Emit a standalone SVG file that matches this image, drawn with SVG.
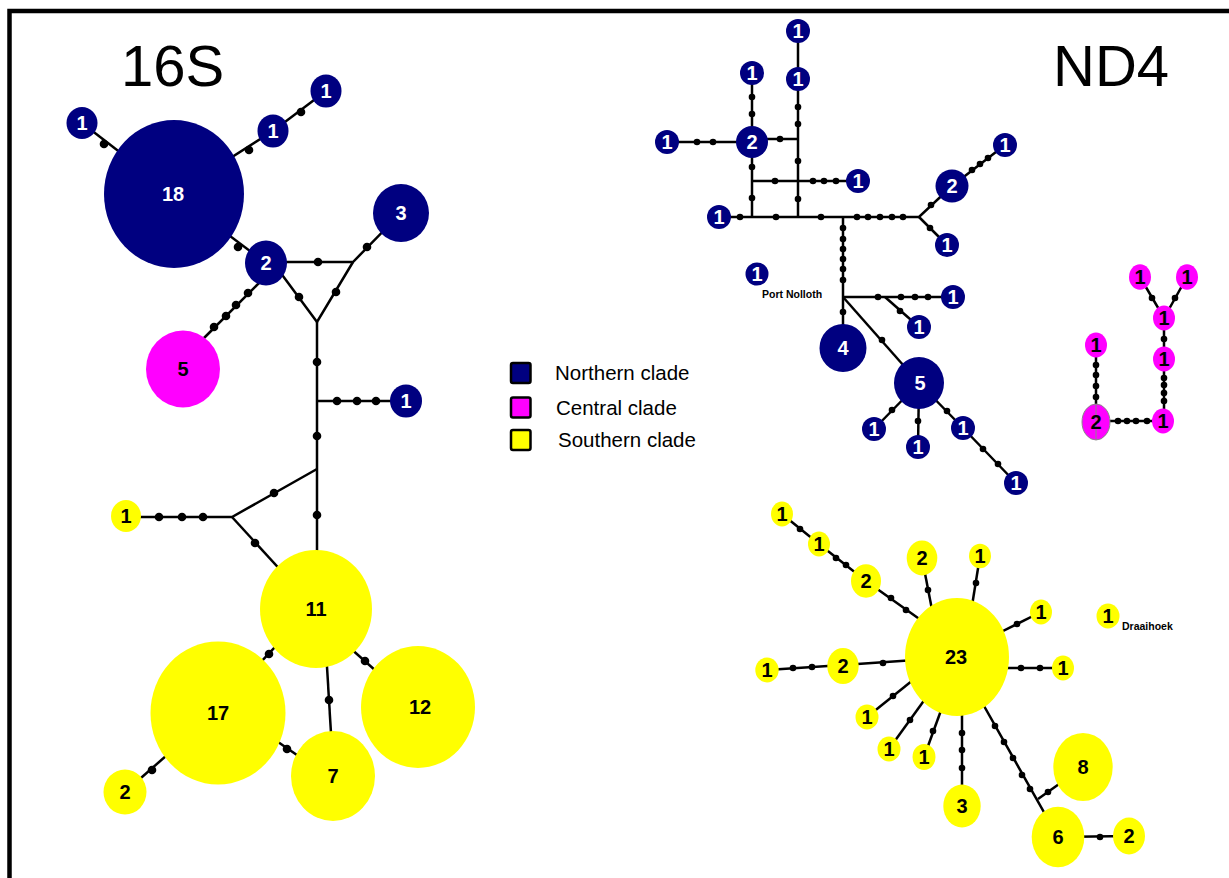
<svg xmlns="http://www.w3.org/2000/svg" width="1229" height="878" viewBox="0 0 1229 878">
<style>
.n{fill:#000080}
.c{fill:#ff00ff}
.s{fill:#ffff00}
.e{stroke:#000;stroke-width:2.5;fill:none}
.d{fill:#000}
.d4 circle{r:4.3px}
.d3 circle{r:3.3px}
text{font-family:"Liberation Sans",Arial,Helvetica,sans-serif}
.w{fill:#fff;font-weight:bold;font-size:20px;text-anchor:middle}
.b{fill:#000;font-weight:bold;font-size:20px;text-anchor:middle}
.t{font-size:58px;fill:#000}
.lg{font-size:20.5px;fill:#000}
.sm{font-size:10.5px;font-weight:bold;fill:#000}
.box{stroke:#000;stroke-width:2.5}
</style>
<rect x="0" y="0" width="1229" height="878" fill="#fff"/>
<path d="M9.5 878 V11 H1229" fill="none" stroke="#000" stroke-width="4.5"/>
<text class="t" x="121" y="86">16S</text>
<text class="t" x="1053" y="86">ND4</text>

<g id="connectors">
  <g class="e">
    <path d="M82 123 L174 194"/>
    <path d="M174 194 L273 131 L326 91"/>
    <path d="M174 194 L266 263"/>
    <path d="M260 282 L200 342"/>
    <path d="M266 262 L353 262 L401 213"/>
    <path d="M353 262 L317 322 L280 272"/>
    <path d="M317 322 L317 580"/>
    <path d="M317 401 H406"/>
    <path d="M317 469 L232 517 H126"/>
    <path d="M232 517 L285 575"/>
    <path d="M290 631 L245 679"/>
    <path d="M340 639 L385 679"/>
    <path d="M326 650 L332 750"/>
    <path d="M265 733 L310 764"/>
    <path d="M175 748 L125 792"/>
    <path d="M798 31 V217"/>
    <path d="M752 73 V217"/>
    <path d="M667 142 H752"/>
    <path d="M752 139 H798"/>
    <path d="M752 181 H858"/>
    <path d="M719 217 H919 L952 186 L1005 145"/>
    <path d="M919 217 L947 245"/>
    <path d="M843 217 V348"/>
    <path d="M843 297 H953"/>
    <path d="M885 297 L919 327"/>
    <path d="M843 297 L919 383"/>
    <path d="M919 383 L874 429"/>
    <path d="M919 383 L918 447"/>
    <path d="M919 383 L963 428 L1016 483"/>
    <path d="M1140 277 L1164 318 L1187 277"/>
    <path d="M1164 318 V421 H1096 V345"/>
    <path d="M782 514 L819 544 L866 581 L925 623"/>
    <path d="M922 558 L934 620"/>
    <path d="M980 556 L971 612"/>
    <path d="M1041 612 L995 635"/>
    <path d="M1063 668 H1000"/>
    <path d="M767 670 L843 665 L915 660"/>
    <path d="M867 717 L918 676"/>
    <path d="M889 749 L928 695"/>
    <path d="M924 757 L943 705"/>
    <path d="M962 806 V700"/>
    <path d="M975 690 L1058 837 L1129 836"/>
    <path d="M1038 799 L1083 767"/>
  </g>
  <g class="d d4">
    <circle cx="104" cy="144"/>
    <circle cx="249" cy="150"/>
    <circle cx="301" cy="112"/>
    <circle cx="238" cy="247"/>
    <circle cx="248" cy="293"/><circle cx="236" cy="305"/><circle cx="226" cy="316"/><circle cx="214" cy="327"/>
    <circle cx="318" cy="262"/>
    <circle cx="367" cy="247"/>
    <circle cx="336" cy="292"/>
    <circle cx="299" cy="297"/>
    <circle cx="317" cy="362"/><circle cx="317" cy="436"/><circle cx="317" cy="515"/>
    <circle cx="337" cy="401"/><circle cx="357" cy="401"/><circle cx="376" cy="401"/>
    <circle cx="274" cy="493"/>
    <circle cx="159" cy="517"/><circle cx="182" cy="517"/><circle cx="203" cy="517"/>
    <circle cx="255" cy="543"/>
    <circle cx="269" cy="654"/>
    <circle cx="365" cy="661"/>
    <circle cx="329" cy="700"/>
    <circle cx="287" cy="749"/>
    <circle cx="152" cy="770"/>
  </g>
  <g class="d d3">
    <circle cx="798" cy="107"/><circle cx="798" cy="124"/><circle cx="798" cy="161"/><circle cx="798" cy="199"/>
    <circle cx="752" cy="97"/><circle cx="752" cy="114"/><circle cx="752" cy="167"/><circle cx="752" cy="198"/>
    <circle cx="697" cy="142"/><circle cx="713" cy="142"/>
    <circle cx="780" cy="139"/>
    <circle cx="775" cy="181"/><circle cx="813" cy="181"/><circle cx="824" cy="181"/><circle cx="836" cy="181"/>
    <circle cx="740" cy="217"/><circle cx="776" cy="217"/><circle cx="821" cy="217"/><circle cx="857" cy="217"/><circle cx="868" cy="217"/><circle cx="880" cy="217"/><circle cx="892" cy="217"/><circle cx="903" cy="217"/>
    <circle cx="931" cy="205"/>
    <circle cx="972" cy="170"/><circle cx="980" cy="164"/><circle cx="988" cy="158"/>
    <circle cx="930" cy="228"/>
    <circle cx="843" cy="228"/><circle cx="843" cy="239"/><circle cx="843" cy="249"/><circle cx="843" cy="259"/><circle cx="843" cy="269"/><circle cx="843" cy="280"/>
    <circle cx="878" cy="297"/><circle cx="901" cy="297"/><circle cx="915" cy="297"/><circle cx="928" cy="297"/>
    <circle cx="900" cy="311"/>
    <circle cx="843" cy="312"/>
    <circle cx="882" cy="340"/>
    <circle cx="892" cy="410"/>
    <circle cx="918" cy="421"/>
    <circle cx="947" cy="411"/>
    <circle cx="983" cy="449"/><circle cx="998" cy="464"/>
    <circle cx="1152" cy="298"/><circle cx="1175" cy="298"/>
    <circle cx="1164" cy="339"/>
    <circle cx="1164" cy="378"/><circle cx="1164" cy="385"/><circle cx="1164" cy="393"/><circle cx="1164" cy="401"/>
    <circle cx="1096" cy="365"/><circle cx="1096" cy="375"/><circle cx="1096" cy="386"/><circle cx="1096" cy="397"/>
    <circle cx="1118" cy="421"/><circle cx="1127" cy="421"/><circle cx="1136" cy="421"/><circle cx="1147" cy="421"/>
    <circle cx="800" cy="529"/>
    <circle cx="836" cy="558"/><circle cx="846" cy="565"/>
    <circle cx="891" cy="598"/><circle cx="906" cy="610"/>
    <circle cx="928" cy="590"/>
    <circle cx="976" cy="583"/>
    <circle cx="1017" cy="624"/>
    <circle cx="1021" cy="668"/><circle cx="1040" cy="668"/>
    <circle cx="793" cy="668"/><circle cx="812" cy="667"/>
    <circle cx="883" cy="663"/>
    <circle cx="893" cy="696"/>
    <circle cx="910" cy="720"/>
    <circle cx="933" cy="731"/>
    <circle cx="962" cy="733"/><circle cx="962" cy="750"/><circle cx="962" cy="768"/>
    <circle cx="995" cy="726"/><circle cx="1004" cy="742"/><circle cx="1013" cy="758"/><circle cx="1022" cy="775"/><circle cx="1030" cy="789"/>
    <circle cx="1048" cy="792"/>
    <circle cx="1100" cy="837"/>
  </g>
</g>

<g id="s16-n1a"><ellipse class="n" cx="82" cy="123" rx="15.5" ry="16"/><text class="w" x="82" y="130">1</text></g>
<g id="s16-n18"><ellipse class="n" cx="174" cy="194" rx="70" ry="74"/><text class="w" x="173" y="201">18</text></g>
<g id="s16-n1b"><ellipse class="n" cx="273" cy="131" rx="15.5" ry="16.5"/><text class="w" x="273" y="138">1</text></g>
<g id="s16-n1c"><ellipse class="n" cx="326" cy="91" rx="15.5" ry="16.5"/><text class="w" x="326" y="98">1</text></g>
<g id="s16-n2"><ellipse class="n" cx="266" cy="263" rx="21" ry="22.5"/><text class="w" x="266" y="270">2</text></g>
<g id="s16-n3"><ellipse class="n" cx="401" cy="213" rx="28" ry="29"/><text class="w" x="401" y="220">3</text></g>
<g id="s16-n5"><ellipse class="c" cx="183" cy="369" rx="37" ry="38.5"/><text class="b" x="183" y="376">5</text></g>
<g id="s16-n1d"><ellipse class="n" cx="406" cy="401" rx="16" ry="16.5"/><text class="w" x="406" y="408">1</text></g>
<g id="s16-s1"><ellipse class="s" cx="126" cy="516" rx="15" ry="16"/><text class="b" x="126" y="523">1</text></g>
<g id="s16-s11"><ellipse class="s" cx="316" cy="609" rx="56" ry="59"/><text class="b" x="316" y="616">11</text></g>
<g id="s16-s17"><ellipse class="s" cx="218" cy="713" rx="67.5" ry="71.5"/><text class="b" x="218" y="720">17</text></g>
<g id="s16-s12"><ellipse class="s" cx="418" cy="707" rx="57" ry="61"/><text class="b" x="420" y="714">12</text></g>
<g id="s16-s7"><ellipse class="s" cx="333" cy="776" rx="42" ry="45"/><text class="b" x="333" y="783">7</text></g>
<g id="s16-s2"><ellipse class="s" cx="125" cy="792" rx="21.5" ry="22.5"/><text class="b" x="125" y="799">2</text></g>

<g id="nd-n1a"><circle class="n" cx="798" cy="31" r="12"/><text class="w" x="798" y="38">1</text></g>
<g id="nd-n1b"><circle class="n" cx="798" cy="79" r="12"/><text class="w" x="798" y="86">1</text></g>
<g id="nd-n1c"><circle class="n" cx="752" cy="73" r="12"/><text class="w" x="752" y="80">1</text></g>
<g id="nd-n2a"><circle class="n" cx="752" cy="142" r="16"/><text class="w" x="752" y="149">2</text></g>
<g id="nd-n1d"><circle class="n" cx="667" cy="142" r="12"/><text class="w" x="667" y="149">1</text></g>
<g id="nd-n1e"><circle class="n" cx="858" cy="181" r="12"/><text class="w" x="858" y="188">1</text></g>
<g id="nd-n1f"><circle class="n" cx="719" cy="217" r="12"/><text class="w" x="719" y="224">1</text></g>
<g id="nd-n2b"><circle class="n" cx="952" cy="186" r="16.5"/><text class="w" x="952" y="193">2</text></g>
<g id="nd-n1g"><circle class="n" cx="1005" cy="145" r="12"/><text class="w" x="1005" y="152">1</text></g>
<g id="nd-n1h"><circle class="n" cx="947" cy="245" r="12"/><text class="w" x="947" y="252">1</text></g>
<g id="nd-n1pn"><circle class="n" cx="757" cy="274" r="11.5"/><text class="w" x="757" y="281">1</text><text class="sm" x="762" y="298">Port Nolloth</text></g>
<g id="nd-n1i"><circle class="n" cx="953" cy="297" r="12"/><text class="w" x="953" y="304">1</text></g>
<g id="nd-n1j"><circle class="n" cx="919" cy="327" r="12"/><text class="w" x="919" y="334">1</text></g>
<g id="nd-n4"><ellipse class="n" cx="843" cy="348" rx="23.5" ry="24"/><text class="w" x="843" y="355">4</text></g>
<g id="nd-n5"><ellipse class="n" cx="919" cy="383" rx="25" ry="26"/><text class="w" x="920" y="390">5</text></g>
<g id="nd-n1k"><circle class="n" cx="874" cy="429" r="12"/><text class="w" x="874" y="436">1</text></g>
<g id="nd-n1l"><circle class="n" cx="918" cy="447" r="12"/><text class="w" x="918" y="454">1</text></g>
<g id="nd-n1m"><circle class="n" cx="963" cy="428" r="12"/><text class="w" x="963" y="435">1</text></g>
<g id="nd-n1n"><circle class="n" cx="1016" cy="483" r="12"/><text class="w" x="1016" y="490">1</text></g>

<g id="nd-c1a"><ellipse class="c" cx="1140" cy="277" rx="11" ry="12.8"/><text class="b" x="1140" y="284">1</text></g>
<g id="nd-c1b"><ellipse class="c" cx="1187" cy="277" rx="11" ry="12.8"/><text class="b" x="1187" y="284">1</text></g>
<g id="nd-c1c"><ellipse class="c" cx="1164" cy="318" rx="11" ry="12.5"/><text class="b" x="1164" y="325">1</text></g>
<g id="nd-c1d"><ellipse class="c" cx="1164" cy="359" rx="11" ry="12.5"/><text class="b" x="1164" y="366">1</text></g>
<g id="nd-c1e"><ellipse class="c" cx="1163" cy="421" rx="11" ry="12.5"/><text class="b" x="1163" y="428">1</text></g>
<g id="nd-c1f"><ellipse class="c" cx="1096" cy="345" rx="11" ry="12.5"/><text class="b" x="1096" y="352">1</text></g>
<g id="nd-c2"><ellipse class="c" cx="1096" cy="422" rx="14" ry="18" stroke="#8a8a8a" stroke-width="1"/><line x1="1096" y1="404" x2="1096" y2="440" stroke="#8a8a8a" stroke-width="1"/><text class="b" x="1096" y="429">2</text></g>

<g id="nd-s1a"><ellipse class="s" cx="782" cy="514" rx="11" ry="12.5"/><text class="b" x="782" y="521">1</text></g>
<g id="nd-s1b"><ellipse class="s" cx="819" cy="544" rx="11" ry="12.5"/><text class="b" x="819" y="551">1</text></g>
<g id="nd-s2a"><ellipse class="s" cx="866" cy="581" rx="15" ry="16.7"/><text class="b" x="866" y="588">2</text></g>
<g id="nd-s2b"><ellipse class="s" cx="922" cy="558" rx="15.3" ry="17.5"/><text class="b" x="922" y="565">2</text></g>
<g id="nd-s1c"><ellipse class="s" cx="980" cy="556" rx="11" ry="12.2"/><text class="b" x="980" y="563">1</text></g>
<g id="nd-s1d"><ellipse class="s" cx="1041" cy="612" rx="11" ry="12.5"/><text class="b" x="1041" y="619">1</text></g>
<g id="nd-s1dr"><ellipse class="s" cx="1108" cy="616" rx="11.5" ry="12.5"/><text class="b" x="1108" y="623">1</text><text class="sm" x="1122" y="630">Draaihoek</text></g>
<g id="nd-s23"><ellipse class="s" cx="957" cy="657" rx="52" ry="59"/><text class="b" x="956" y="664">23</text></g>
<g id="nd-s1e"><ellipse class="s" cx="1063" cy="668" rx="11" ry="12.5"/><text class="b" x="1063" y="675">1</text></g>
<g id="nd-s2c"><ellipse class="s" cx="843" cy="666" rx="15.7" ry="18"/><text class="b" x="843" y="673">2</text></g>
<g id="nd-s1f"><ellipse class="s" cx="767" cy="670" rx="11.7" ry="12.5"/><text class="b" x="767" y="677">1</text></g>
<g id="nd-s1g"><ellipse class="s" cx="867" cy="717" rx="11.5" ry="12.5"/><text class="b" x="867" y="724">1</text></g>
<g id="nd-s1h"><ellipse class="s" cx="889" cy="749" rx="11.5" ry="12.5"/><text class="b" x="889" y="756">1</text></g>
<g id="nd-s1i"><ellipse class="s" cx="924" cy="757" rx="11.5" ry="13"/><text class="b" x="924" y="764">1</text></g>
<g id="nd-s3"><ellipse class="s" cx="962" cy="806" rx="18.7" ry="21.5"/><text class="b" x="962" y="813">3</text></g>
<g id="nd-s8"><ellipse class="s" cx="1083" cy="767" rx="29.7" ry="34"/><text class="b" x="1083" y="774">8</text></g>
<g id="nd-s6"><ellipse class="s" cx="1058" cy="837" rx="26.3" ry="30.3"/><text class="b" x="1058" y="844">6</text></g>
<g id="nd-s2d"><ellipse class="s" cx="1129" cy="836" rx="16" ry="18.5"/><text class="b" x="1129" y="843">2</text></g>

<g id="legend">
  <rect class="n box" x="511" y="363" width="19.5" height="20" rx="2"/>
  <text class="lg" x="555" y="380">Northern clade</text>
  <rect class="c box" x="511" y="397.5" width="19.5" height="20" rx="2"/>
  <text class="lg" x="556" y="415">Central clade</text>
  <rect class="s box" x="511" y="430" width="19.5" height="20" rx="2"/>
  <text class="lg" x="558" y="447">Southern clade</text>
</g>
</svg>
